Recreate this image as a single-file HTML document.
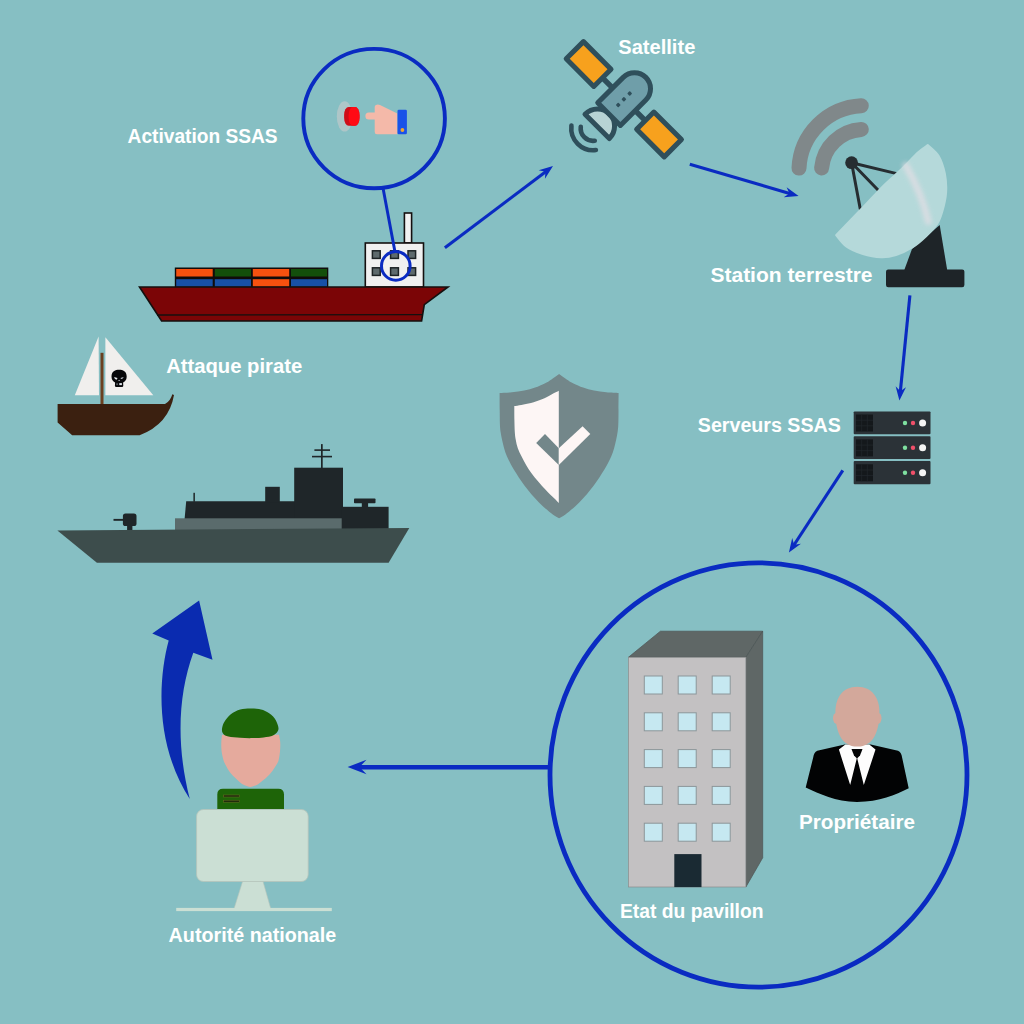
<!DOCTYPE html>
<html><head><meta charset="utf-8">
<style>
html,body{margin:0;padding:0;background:#86bfc3;}
body{width:1024px;height:1024px;overflow:hidden;}
svg{display:block;}
text{font-family:"Liberation Sans",sans-serif;font-weight:bold;fill:#fff;}
</style></head><body>
<svg width="1024" height="1024" viewBox="0 0 1024 1024">
<rect width="1024" height="1024" fill="#86bfc3"/>

<!-- ===== thin arrows ===== -->
<defs>
<path id="ah" d="M0,0 L-14,-5.2 L-9.5,0 L-14,5.2 Z" fill="#0a2bc2"/>
</defs>
<g stroke="#0a2bc2" stroke-width="3.1" fill="none">
<line x1="444.9" y1="247.7" x2="548" y2="169.9"/>
<line x1="689.8" y1="164.2" x2="793" y2="194.5"/>
<line x1="909.9" y1="295.3" x2="900" y2="395"/>
<line x1="842.8" y1="470.3" x2="792" y2="548"/>
</g>
<use href="#ah" transform="translate(553,166.1) rotate(-37)"/>
<use href="#ah" transform="translate(798.6,196.1) rotate(16.3)"/>
<use href="#ah" transform="translate(899.4,400.6) rotate(95.7)"/>
<use href="#ah" transform="translate(788.9,552.6) rotate(123.2)"/>

<!-- ===== big circle + arrow to soldier ===== -->
<ellipse cx="758.5" cy="775" rx="208.5" ry="212.2" fill="none" stroke="#0a2bc2" stroke-width="4.8"/>
<line x1="550" y1="767.3" x2="356" y2="767.3" stroke="#0a2bc2" stroke-width="4.4"/>
<path d="M347.6,767 L366.5,759.8 L359.5,767 L366.5,774.2 Z" fill="#0a2bc2"/>

<!-- ===== activation circle ===== -->

<!-- ===== cargo ship ===== -->
<g stroke="#14100f" stroke-width="1.6" stroke-linejoin="miter">
  <!-- chimney -->
  <rect x="404.4" y="213" width="7.2" height="30" fill="#f1f1f1"/>
  <!-- cabin -->
  <rect x="365.3" y="243" width="58.2" height="44" fill="#f0f0f0"/>
  <!-- containers -->
  <g stroke="none">
  <rect x="174.8" y="267.5" width="153.5" height="19.6" fill="#100c0b"/>
  <rect x="176.2" y="269" width="36.5" height="7.5" fill="#f6510f"/>
  <rect x="214.8" y="269" width="36.2" height="7.5" fill="#134f0b"/>
  <rect x="252.8" y="269" width="36.4" height="7.5" fill="#f6510f"/>
  <rect x="291" y="269" width="36" height="7.5" fill="#134f0b"/>
  <rect x="176.2" y="279.2" width="36.5" height="7.5" fill="#1851a6"/>
  <rect x="214.8" y="279.2" width="36.2" height="7.5" fill="#1851a6"/>
  <rect x="252.8" y="279.2" width="36.4" height="7.5" fill="#f6510f"/>
  <rect x="291" y="279.2" width="36" height="7.5" fill="#1851a6"/>
  </g>
  <!-- hull -->
  <path d="M139.5,287 L448,287 L424.3,304.6 L421.6,321 L161.6,321 Z" fill="#7b0506"/>
  <path d="M157,315 L422.4,314.6" fill="none" stroke-width="1.4"/>
</g>
<!-- cabin windows -->
<g fill="#5e6a6d" stroke="#1d2325" stroke-width="1.5">
  <rect x="372.4" y="250.8" width="7.8" height="7.6"/>
  <rect x="390.6" y="250.8" width="7.8" height="7.6"/>
  <rect x="408" y="250.8" width="7.6" height="7.6"/>
  <rect x="372.4" y="267.8" width="7.8" height="7.6"/>
  <rect x="390.6" y="267.8" width="7.8" height="7.6"/>
  <rect x="408" y="267.8" width="7.6" height="7.6"/>
</g>
<circle cx="395.8" cy="265.9" r="14.3" fill="none" stroke="#0a2bc2" stroke-width="3"/>
<ellipse cx="374.1" cy="118.6" rx="70.8" ry="69.7" fill="none" stroke="#0a2bc2" stroke-width="3.9"/>
<line x1="383" y1="188" x2="395" y2="252" stroke="#0a2bc2" stroke-width="3"/>

<!-- ===== pirate boat ===== -->
<path d="M98.6,336.6 L74.8,395.3 L99,395.3 Z" fill="#f0efed"/>
<path d="M105.4,337.2 L105.4,395.3 L153.3,395.3 Z" fill="#f0efed"/>
<rect x="100.5" y="352.8" width="3" height="52" fill="#6b4020"/>
<path d="M57.6,404 L165,404 Q170.5,401 172.3,394.2 L174,395 Q169,424 139.6,435.3 L72.2,435.3 L57.6,422.5 Z" fill="#3b2010"/>
<!-- skull -->
<g transform="translate(119.1,378.5)">
  <path d="M-7.6,-1.8 C-7.6,-7.3 -3.8,-8.7 0,-8.7 C3.8,-8.7 7.6,-7.3 7.6,-1.8 C7.6,1.6 5.6,3.2 4,4 L4.2,7.2 Q4.2,8.4 2.8,8.4 L-2.8,8.4 Q-4.2,8.4 -4.2,7.2 L-4,4 C-5.6,3.2 -7.6,1.6 -7.6,-1.8 Z" fill="#07080a"/>
  <path d="M-5,-1.6 L-1.6,-0.4 L-2.4,1.2 Q-4.6,0.8 -5,-1.6 Z" fill="#e4e8ec"/>
  <path d="M4.6,-1.6 L1.4,-0.6 L2,0.6 Q4,0.4 4.6,-1.6 Z" fill="#c2c8d0"/>
  <path d="M-0.9,2.6 L0,1.2 L0.9,2.6 Z" fill="#cfd4da"/>
  <rect x="0.2" y="4.6" width="2.6" height="2" fill="#dfe4ea"/>
  <rect x="-2.8" y="4.8" width="1.6" height="1.8" fill="#5d636a"/>
</g>

<!-- ===== warship ===== -->
<g fill="#1f2629">
  <path d="M186.2,501.3 L295,501.3 L295,530 L183.6,530 Z"/>
  <rect x="193.4" y="492.8" width="1.5" height="9"/>
  <rect x="265.2" y="486.8" width="14.6" height="16"/>
  <rect x="294.2" y="467.7" width="48.8" height="62.3"/>
  <rect x="341.7" y="506.8" width="46.9" height="23.2"/>
  <rect x="354" y="498.4" width="21.5" height="4.8" rx="0.8"/>
  <rect x="361.8" y="502" width="6.3" height="6"/>
  <rect x="321" y="444.1" width="1.7" height="24"/>
  <rect x="314.4" y="449.3" width="15.6" height="1.6"/>
  <rect x="312" y="455.8" width="20" height="1.6"/>
  <rect x="122.9" y="513.4" width="13.6" height="12.7" rx="2.6"/>
  <rect x="113.5" y="518.9" width="10" height="1.9"/>
  <rect x="127.1" y="525" width="5.3" height="6"/>
</g>
<rect x="175" y="518.3" width="166.7" height="11.8" fill="#5a6b6c"/>
<path d="M57.4,530.4 L409.3,528 L388.6,562.8 L96.9,562.8 Z" fill="#3d4d4c"/>

<!-- ===== satellite ===== -->
<g transform="translate(623.9,99.3) rotate(45)" stroke="#2f4f5b" stroke-width="5" stroke-linejoin="round" stroke-linecap="round">
  <!-- signal arcs -->
  <path d="M-11.1,49.9 A12.5,12.5 0 0 0 8.7,49.9" fill="none" stroke-width="4.6"/>
  <path d="M-18.5,55.7 A22,22 0 0 0 16.1,55.7" fill="none" stroke-width="4.6"/>
  <!-- dish -->
  <path d="M-17,38 A17.2,17.6 0 0 1 17.4,38 Z" fill="#b7d3d4"/>
  <!-- connectors -->
  <line x1="-32" y1="0" x2="32" y2="0" stroke-width="5.5"/>
  <!-- panels -->
  <rect x="-69.4" y="-12.2" width="39" height="24.4" fill="#f7a11d"/>
  <rect x="30.2" y="-12.2" width="39" height="24.4" fill="#f7a11d"/>
  <!-- body -->
  <path d="M-16,21 L-16,-15 A16,16 0 0 1 16,-15 L16,21 Z" fill="#6f9ea9"/>
  <g stroke="none" fill="#2f4f5b">
    <rect x="-1.8" y="6.2" width="3.6" height="3.6" rx="0.8"/>
    <rect x="-1.8" y="-1.8" width="3.6" height="3.6" rx="0.8"/>
    <rect x="-1.8" y="-10" width="3.6" height="3.6" rx="0.8"/>
  </g>
</g>

<!-- ===== ground station ===== -->
<g>
  <!-- signal arcs -->
  <g fill="none" stroke="#80888a" stroke-width="15" stroke-linecap="round">
    <path d="M799,168.1 A65.5,65.5 0 0 1 861.3,105.8"/>
    <path d="M821.6,168 A42.5,42.5 0 0 1 861.3,129.4"/>
  </g>
  <!-- struts -->
  <g stroke="#262d31" stroke-width="3" stroke-linecap="round">
    <line x1="851.6" y1="162.7" x2="897.8" y2="173.9"/>
    <line x1="851.6" y1="162.7" x2="878.5" y2="190.5"/>
    <line x1="851.6" y1="162.7" x2="860.2" y2="208.8"/>
  </g>
  <circle cx="851.6" cy="162.7" r="6.4" fill="#262d31"/>
  <!-- pedestal + base -->
  <path d="M904.3,270 L912,249 L939.7,225 L947.2,270 Z" fill="#1e2428"/>
  <rect x="886" y="269.5" width="78.4" height="17.8" rx="2.2" fill="#1e2428"/>
  <!-- dish -->
  <path d="M927.8,145.4 C929.5,147.2 935.6,151.5 938.4,156.2 C941.2,160.9 943.3,167.7 944.6,173.7 C945.8,179.7 946.2,186.1 945.8,192.3 C945.4,198.6 943.6,205.9 942.1,211.1 C940.6,216.3 939.8,219.4 937.1,223.6 C934.4,227.7 930.1,232.1 925.9,236.0 C921.7,240.0 917.1,244.1 912.1,247.2 C907.2,250.3 901.1,253.1 895.9,254.7 C890.8,256.3 886.6,257.2 881.0,256.9 C875.4,256.7 868.1,255.2 862.3,253.4 C856.4,251.6 850.3,249.0 846.1,245.9 C841.8,242.9 838.1,237.0 836.5,235.2 C840.8,230.8 854.4,216.7 862.3,208.5 C870.1,200.4 877.0,192.6 883.5,186.1 C889.9,179.7 895.1,175.6 901.0,169.9 C906.8,164.3 914.0,156.6 918.4,152.5 C922.9,148.4 926.2,146.6 927.8,145.4 Z" fill="#b5d9da" stroke="#b5d9da" stroke-width="2.6" stroke-linejoin="round"/>
  <path d="M905.8,165.5 C913,178 923,198 928.3,221.5" fill="none" stroke="#eadfe6" stroke-width="7" stroke-linecap="round" opacity="0.62" style="filter:blur(2.1px)"/>
</g>

<!-- ===== servers ===== -->
<g>
  <g fill="#2b3237">
    <rect x="853.7" y="411.4" width="76.8" height="22.8" rx="0.9"/>
    <rect x="853.7" y="436.2" width="76.8" height="22.7" rx="0.9"/>
    <rect x="853.7" y="461.1" width="76.8" height="23.1" rx="0.9"/>
  </g>
  <g fill="#14181b">
    <rect x="856" y="414.5" width="17" height="17"/>
    <rect x="856" y="439.4" width="17" height="17"/>
    <rect x="856" y="464.3" width="17" height="17"/>
  </g>
  <g stroke="#22282c" stroke-width="0.7">
    <path d="M861.7,414.5V431.5M867.3,414.5V431.5M856,420.2H873M856,425.8H873"/>
    <path d="M861.7,439.4V456.4M867.3,439.4V456.4M856,445.1H873M856,450.7H873"/>
    <path d="M861.7,464.3V481.3M867.3,464.3V481.3M856,470H873M856,475.6H873"/>
  </g>
  <g>
    <circle cx="905" cy="423" r="2.2" fill="#7fe0a0"/><circle cx="913" cy="423" r="2.2" fill="#f0506a"/><circle cx="922.6" cy="423" r="3.5" fill="#f4f4f4"/>
    <circle cx="905" cy="447.8" r="2.2" fill="#7fe0a0"/><circle cx="913" cy="447.8" r="2.2" fill="#f0506a"/><circle cx="922.6" cy="447.8" r="3.5" fill="#f4f4f4"/>
    <circle cx="905" cy="472.8" r="2.2" fill="#7fe0a0"/><circle cx="913" cy="472.8" r="2.2" fill="#f0506a"/><circle cx="922.6" cy="472.8" r="3.5" fill="#f4f4f4"/>
  </g>
</g>

<!-- ===== shield ===== -->
<path d="M559.1,373.9 C557.8,374.8 553.9,377.8 551.5,379.4 C549.1,381.0 547.4,382.1 544.7,383.5 C542.0,384.9 538.5,386.4 535.1,387.6 C531.7,388.8 528.1,389.8 524.2,390.6 C520.3,391.4 516.0,391.9 511.9,392.3 C507.8,392.7 501.7,392.9 499.6,393.0 C499.6,395.8 499.6,404.8 499.7,410.0 C499.8,415.2 499.8,420.3 499.9,424.0 C500.0,427.7 500.2,429.3 500.6,432.0 C501.0,434.7 501.5,437.3 502.1,440.0 C502.7,442.7 503.3,445.5 504.1,448.3 C504.9,451.1 505.8,453.8 507.0,456.6 C508.2,459.4 509.7,462.1 511.2,464.9 C512.7,467.7 514.5,470.4 516.2,473.2 C517.9,476.0 519.7,478.7 521.6,481.5 C523.5,484.3 525.6,487.0 527.8,489.8 C530.0,492.6 532.2,495.3 534.8,498.1 C537.3,500.9 540.0,503.6 543.1,506.4 C546.2,509.2 550.4,512.7 553.1,514.7 C555.8,516.7 558.1,517.6 559.1,518.2 C560.1,517.6 562.4,516.7 565.1,514.7 C567.8,512.7 572.0,509.2 575.1,506.4 C578.2,503.6 580.9,500.9 583.4,498.1 C586.0,495.3 588.2,492.6 590.4,489.8 C592.6,487.0 594.7,484.3 596.6,481.5 C598.5,478.7 600.3,476.0 602.0,473.2 C603.7,470.4 605.5,467.7 607.0,464.9 C608.5,462.1 610.0,459.4 611.2,456.6 C612.4,453.8 613.3,451.1 614.1,448.3 C614.9,445.5 615.5,442.7 616.1,440.0 C616.7,437.3 617.2,434.7 617.6,432.0 C618.0,429.3 618.2,427.7 618.3,424.0 C618.5,420.3 618.5,415.2 618.5,410.0 C618.5,404.8 618.6,395.8 618.6,393.0 C616.6,392.9 610.4,392.7 606.3,392.3 C602.2,391.9 597.9,391.4 594.0,390.6 C590.1,389.8 586.5,388.8 583.1,387.6 C579.7,386.4 576.2,384.9 573.5,383.5 C570.8,382.1 569.1,381.0 566.7,379.4 C564.3,377.8 560.4,374.8 559.1,373.9 Z" fill="#73878a"/>
<path d="M558.8,390.7 C557.6,391.3 554.3,393.0 551.5,394.4 C548.7,395.8 545.4,397.8 542.0,399.2 C538.6,400.6 534.4,402.1 531.0,403.0 C527.6,403.9 524.2,404.4 521.4,404.9 C518.6,405.4 515.5,405.8 514.3,406.0 C514.3,408.3 514.3,415.7 514.4,420.0 C514.5,424.3 514.6,428.7 514.8,432.0 C515.0,435.3 515.2,437.3 515.8,440.0 C516.2,442.7 516.8,445.5 517.8,448.3 C518.8,451.1 520.2,453.8 521.6,456.6 C523.0,459.4 524.5,462.1 526.1,464.9 C527.8,467.7 529.5,470.4 531.5,473.2 C533.5,476.0 535.9,478.7 538.2,481.5 C540.6,484.3 543.0,487.0 545.6,489.8 C548.2,492.6 551.7,495.9 553.9,498.1 C556.1,500.3 558.0,502.3 558.8,503.1 Z" fill="#fdf6f5"/>
<path d="M545,433.9 L536.2,442.9 L558.8,465 L558.8,448.2 Z" fill="#73878a"/>
<path d="M558.8,448.2 L582.6,426.3 L590.3,434 L558.8,465 Z" fill="#fdf6f5"/>

<!-- ===== building ===== -->
<g stroke-width="0.7">
  <path d="M628.4,657.3 L660.4,631.2 L762.7,631.2 L745.9,657.3 Z" fill="#5f6766" stroke="#4d5554"/>
  <path d="M745.9,657.3 L762.7,631.2 L762.7,857.8 L745.9,887 Z" fill="#5f6766" stroke="#4d5554"/>
  <rect x="628.4" y="657.3" width="117.5" height="229.7" fill="#c3c1c2" stroke="#8a8c8d"/>
</g>
<g fill="#c6e8f1" stroke="#8c9699" stroke-width="1">
  <rect x="644.3" y="676" width="18" height="18"/><rect x="678.2" y="676" width="18" height="18"/><rect x="712.2" y="676" width="18" height="18"/>
  <rect x="644.3" y="712.8" width="18" height="18"/><rect x="678.2" y="712.8" width="18" height="18"/><rect x="712.2" y="712.8" width="18" height="18"/>
  <rect x="644.3" y="749.6" width="18" height="18"/><rect x="678.2" y="749.6" width="18" height="18"/><rect x="712.2" y="749.6" width="18" height="18"/>
  <rect x="644.3" y="786.4" width="18" height="18"/><rect x="678.2" y="786.4" width="18" height="18"/><rect x="712.2" y="786.4" width="18" height="18"/>
  <rect x="644.3" y="823.2" width="18" height="18"/><rect x="678.2" y="823.2" width="18" height="18"/><rect x="712.2" y="823.2" width="18" height="18"/>
</g>
<rect x="674.3" y="854.1" width="27.2" height="33" fill="#1a2a33"/>

<!-- ===== owner ===== -->
<g>
  <path d="M844.7,744.5 L817.3,750.7 Q813.8,752.5 813.2,757.5 L805.7,787.6 C820,794 835,801.9 857,801.9 C880,801.9 895,795 908.7,788.3 L902.1,757.5 Q901.5,752.5 898,750.7 L870.7,744.5 Z" fill="#020304"/>
  <path d="M845.4,744.5 L838.9,749.6 L850.2,785.1 L857,757.5 L863.8,785.1 L875.5,749.6 L869.3,744.5 Z" fill="#fdfdfd"/>
  <path d="M851.5,749 L862.5,749 L860,755.5 L857,758.6 L854,755.5 Z" fill="#020304"/>
  <ellipse cx="836.6" cy="718.3" rx="3.6" ry="5.6" fill="#d3a89b"/>
  <ellipse cx="877.9" cy="718.3" rx="3.6" ry="5.6" fill="#d3a89b"/>
  <path d="M857.3,686.7 C872.3,686.7 879.4,698 879.4,712 C879.4,731 873.5,746.6 857.3,746.6 C841,746.6 835.4,731 835.4,712 C835.4,698 842.3,686.7 857.3,686.7 Z" fill="#d3a89b"/>
</g>

<!-- ===== soldier ===== -->
<g>
  <path d="M217.3,809 L217.3,794.5 Q217.3,788.8 223,788.8 L278.3,788.8 Q284,788.8 284,794.5 L284,809 Z" fill="#1e6408"/>
  <g stroke="#6f6e22" stroke-width="0.5" fill="#1c2a0c">
    <rect x="223.6" y="795" width="15.8" height="2"/>
    <rect x="223.6" y="800.2" width="15.8" height="2"/>
  </g>
  <path d="M222.0,734.8 C221.9,736.0 221.4,739.1 221.3,741.9 C221.2,744.6 221.2,748.2 221.6,751.3 C222.0,754.4 222.9,758.3 223.6,760.6 C224.3,762.9 224.9,763.5 225.8,765.3 C226.7,767.1 227.8,769.2 229.2,771.2 C230.6,773.2 232.6,775.2 234.3,777.0 C236.0,778.8 237.9,780.5 239.6,781.9 C241.3,783.3 242.8,784.5 244.6,785.3 C246.4,786.1 248.4,786.9 250.3,786.9 C252.2,786.9 254.2,786.1 256.0,785.3 C257.8,784.5 259.1,783.3 261.0,781.9 C262.9,780.5 265.3,778.5 267.2,776.7 C269.1,774.9 270.9,772.9 272.4,770.9 C273.9,768.9 275.3,766.8 276.3,765.0 C277.3,763.2 278.0,762.6 278.6,760.3 C279.2,758.0 279.7,754.4 280.0,751.3 C280.3,748.2 280.4,744.6 280.2,741.9 C280.0,739.1 279.2,736.0 279.0,734.8 Z" fill="#e5aa9d"/>
  <path d="M250.1,708.5 C247.0,708.6 243.4,708.6 240.2,709.6 C237.0,710.6 233.5,712.2 230.8,714.3 C228.2,716.4 225.8,719.5 224.3,722.0 C222.8,724.5 222.2,727.0 222.0,729.0 C221.8,731.0 222.1,732.4 223.2,733.7 C224.3,735.0 225.6,735.9 228.4,736.6 C231.2,737.3 236.3,737.5 240.2,737.8 C244.1,738.0 248.0,738.2 251.9,738.1 C255.8,738.0 260.1,737.9 263.6,737.4 C267.1,736.9 270.6,736.4 273.0,735.4 C275.4,734.4 276.8,732.8 277.7,731.3 C278.6,729.8 278.7,728.8 278.2,726.6 C277.7,724.5 276.5,720.8 274.7,718.4 C272.9,716.0 269.7,713.5 267.1,712.0 C264.5,710.5 261.7,709.7 258.9,709.1 C256.1,708.5 253.2,708.4 250.1,708.5 Z" fill="#1e6408"/>
  <!-- monitor -->
  <path d="M242.7,881 L262.9,881 L270.7,908.5 L234.1,908.5 Z" fill="#cbdfd4" stroke="#b5c4ba" stroke-width="0.6"/>
  <rect x="176.2" y="907.9" width="155.6" height="3.2" fill="#cbdfd4"/>
  <rect x="196.6" y="809.5" width="111.6" height="72" rx="6.8" fill="#cbdfd4" stroke="#b5c4ba" stroke-width="0.8"/>
</g>

<!-- ===== big curved arrow ===== -->
<path d="M199.1,600.6 L152.3,633.4 L168.7,640.5 C158,680 155,745 189.8,799.1 C176,745 178,695 193.3,652.7 L212.5,659.7 Z" fill="#0a2bb0"/>

<!-- ===== activation icon ===== -->
<g>
  <ellipse cx="344.6" cy="116.4" rx="7.8" ry="15.2" fill="#c9cccb" opacity="0.6"/>
  <rect x="344.1" y="107" width="15.4" height="18.8" rx="4.6" ry="8" fill="#cf0d18"/>
  <rect x="348.6" y="107" width="10.9" height="18.8" rx="4.4" ry="8.2" fill="#ff0a14"/>
  <!-- hand -->
  <path d="M376,104.9 Q378,104 380,105 L397.3,113.5 L397.3,134.3 L377,134.3 Q374.7,134.3 374.7,132 L374.7,119.6 L368.8,119.6 A3.4,3.5 0 0 1 368.8,112.6 L374.7,112.6 L374.7,107 Q374.7,105.4 376,104.9 Z" fill="#f4b9a9"/>
  <rect x="397.5" y="109.7" width="9.4" height="24.5" rx="1.3" fill="#1a52e8"/>
  <circle cx="402.4" cy="130" r="1.9" fill="#f0a730"/>
</g>

<!-- ===== labels ===== -->
<g font-size="20" lengthAdjust="spacingAndGlyphs">
<text id="t1" x="127.6" y="143.2" textLength="150" lengthAdjust="spacingAndGlyphs">Activation SSAS</text>
<text id="t2" x="618.3" y="53.7" textLength="77" lengthAdjust="spacingAndGlyphs">Satellite</text>
<text id="t3" x="710.5" y="282.3" textLength="162" lengthAdjust="spacingAndGlyphs">Station terrestre</text>
<text id="t4" x="166.2" y="373.1" textLength="136" lengthAdjust="spacingAndGlyphs">Attaque pirate</text>
<text id="t5" x="697.8" y="432" textLength="143" lengthAdjust="spacingAndGlyphs">Serveurs SSAS</text>
<text id="t6" x="799" y="828.6" textLength="116" lengthAdjust="spacingAndGlyphs">Propriétaire</text>
<text id="t7" x="620" y="917.7" textLength="143.5" lengthAdjust="spacingAndGlyphs">Etat du pavillon</text>
<text id="t8" x="168.6" y="942.3" textLength="167.6" lengthAdjust="spacingAndGlyphs">Autorité nationale</text>
</g>

</svg>
</body></html>
